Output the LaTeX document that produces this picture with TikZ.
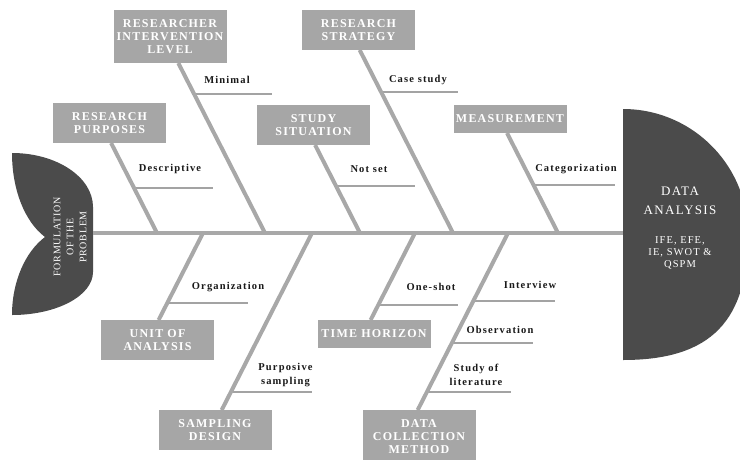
\documentclass[tikz,border=0pt]{standalone}
\usepackage{fontspec}
\setmainfont{Liberation Serif}
\newfontfamily\boxfont[LetterSpace=10]{Liberation Serif}
\newfontfamily\labfont[LetterSpace=11]{Liberation Serif}
\newfontfamily\headfont[LetterSpace=11]{Liberation Serif}
\newfontfamily\smallfont[LetterSpace=10]{Liberation Serif}
\newfontfamily\tailfont[LetterSpace=7]{Liberation Serif}
\definecolor{boxgray}{HTML}{A6A6A6}
\definecolor{bonegray}{HTML}{A8A8A8}
\definecolor{subgray}{HTML}{A3A3A3}
\definecolor{darkfish}{HTML}{4B4B4B}
\begin{document}
\begin{tikzpicture}[x=1pt,y=-1pt,
  bone/.style={line width=4pt,draw=bonegray},
  subline/.style={line width=1.3pt,draw=subgray},
  catbox/.style={fill=boxgray,text=white,align=center,minimum width=113pt,inner sep=0pt,
     font=\boxfont\bfseries\fontsize{12}{13}\selectfont},
  oneline/.style={catbox,minimum height=28pt},
  twoline/.style={catbox,minimum height=40pt},
  threeline/.style={catbox,minimum height=53pt},
  lab/.style={text=black!90,align=center,inner sep=0pt,
     font=\labfont\bfseries\fontsize{10.5}{13.5}\selectfont}]
\useasboundingbox (0,0) rectangle (740,459);
\clip (0,0) rectangle (740,459);

% tail and head
\path[fill=darkfish] (12,153) .. controls (56.7,153) and (93,177.2) .. (93,207)
  -- (93,272) .. controls (93,295.7) and (56.7,315) .. (12,315)
  .. controls (12,282) and (25,252) .. (45,237)
  .. controls (25,222) and (12,190) .. (12,153) -- cycle;
\path[fill=darkfish] (623,109) .. controls (692,109) and (748,165) .. (748,234)
  .. controls (748,320) and (712,360) .. (623,360) -- cycle;
\node[text=white,rotate=90,align=center,inner sep=0pt,
  font=\tailfont\fontsize{10}{13}\selectfont] (tailtext) at (70,237)
  {FORMULATION\\OF THE\\PROBLEM};
\node[text=white,align=center,inner sep=0pt,
  font=\headfont\fontsize{13}{19}\selectfont] (headtitle) at (680,201) {DATA\\ANALYSIS};
\node[text=white,align=center,inner sep=0pt,
  font=\smallfont\fontsize{10.5}{12}\selectfont] (headtools) at (680,253)
  {IFE, EFE,\\IE, SWOT \&\\QSPM};

% spine
\coordinate (tailend) at (93,233);
\coordinate (headstart) at (623,233);

% spine points
\coordinate (sRP) at (157,233);
\coordinate (sRIL) at (265,233);
\coordinate (sSS) at (360,233);
\coordinate (sRS) at (453,233);
\coordinate (sM) at (558,233);
\coordinate (sUA) at (203,233);
\coordinate (sSD) at (312,233);
\coordinate (sTH) at (415,233);
\coordinate (sDC) at (508,233);

% bone ends at boxes
\coordinate (eRP) at (111.1,143);
\coordinate (eRIL) at (178.3,63);
\coordinate (eSS) at (315.1,145);
\coordinate (eRS) at (359.7,50);
\coordinate (eM) at (507,133);
\coordinate (eUA) at (158.6,320);
\coordinate (eSD) at (221.7,410);
\coordinate (eTH) at (370.6,320);
\coordinate (eDC) at (417.7,410);

% sub-lines
\coordinate (a1) at (194.1,94);  \coordinate (b1) at (272,94);
\coordinate (a2) at (134,188);   \coordinate (b2) at (213,188);
\coordinate (a3) at (381.1,92);  \coordinate (b3) at (458,92);
\coordinate (a4) at (336,186);   \coordinate (b4) at (415,186);
\coordinate (a5) at (533.5,185); \coordinate (b5) at (615,185);
\coordinate (a6) at (167.3,303); \coordinate (b6) at (248,303);
\coordinate (a7) at (230.9,392); \coordinate (b7) at (312,392);
\coordinate (a8) at (378.3,305); \coordinate (b8) at (458,305);
\coordinate (a9) at (473.3,301); \coordinate (b9) at (555,301);
\coordinate (a10) at (451.9,343); \coordinate (b10) at (533,343);
\coordinate (a11) at (426.9,392); \coordinate (b11) at (511,392);
\foreach \i in {1,...,11} {\draw[subline] (a\i) -- (b\i);}

\draw[bone] (tailend) -- (headstart);
\foreach \n in {RP,RIL,SS,RS,M,UA,SD,TH,DC} {\draw[bone] (s\n) -- (e\n);}

% boxes
\node[threeline] (ril) at (170,36.5) {RESEARCHER\\INTERVENTION\\LEVEL};
\node[twoline] (rs) at (358.5,30) {RESEARCH\\STRATEGY};
\node[twoline] (rp) at (109.5,123) {RESEARCH\\PURPOSES};
\node[twoline] (ss) at (313.5,125) {STUDY\\SITUATION};
\node[oneline] (ms) at (510,119) {MEASUREMENT};
\node[twoline] (ua) at (157.5,340) {UNIT OF\\ANALYSIS};
\node[twoline] (sd) at (215,430) {SAMPLING\\DESIGN};
\node[oneline] (th) at (374,333.5) {TIME HORIZON};
\node[threeline] (dc) at (419,436.5) {DATA\\COLLECTION\\METHOD};

% labels
\node[lab] (l1) at (227,80) {Minimal};
\node[lab] (l2) at (170,169) {Descriptive};
\node[lab] (l3) at (418,80) {Case study};
\node[lab] (l4) at (369,169) {Not set};
\node[lab] (l5) at (576,169) {Categorization};
\node[lab] (l6) at (228,287) {Organization};
\node[lab] (l7) at (285.5,375) {Purposive\\sampling};
\node[lab] (l8) at (431,287) {One-shot};
\node[lab] (l9) at (530,285) {Interview};
\node[lab] (l10) at (500,330) {Observation};
\node[lab] (l11) at (476,375) {Study of\\literature};
\end{tikzpicture}
\end{document}
